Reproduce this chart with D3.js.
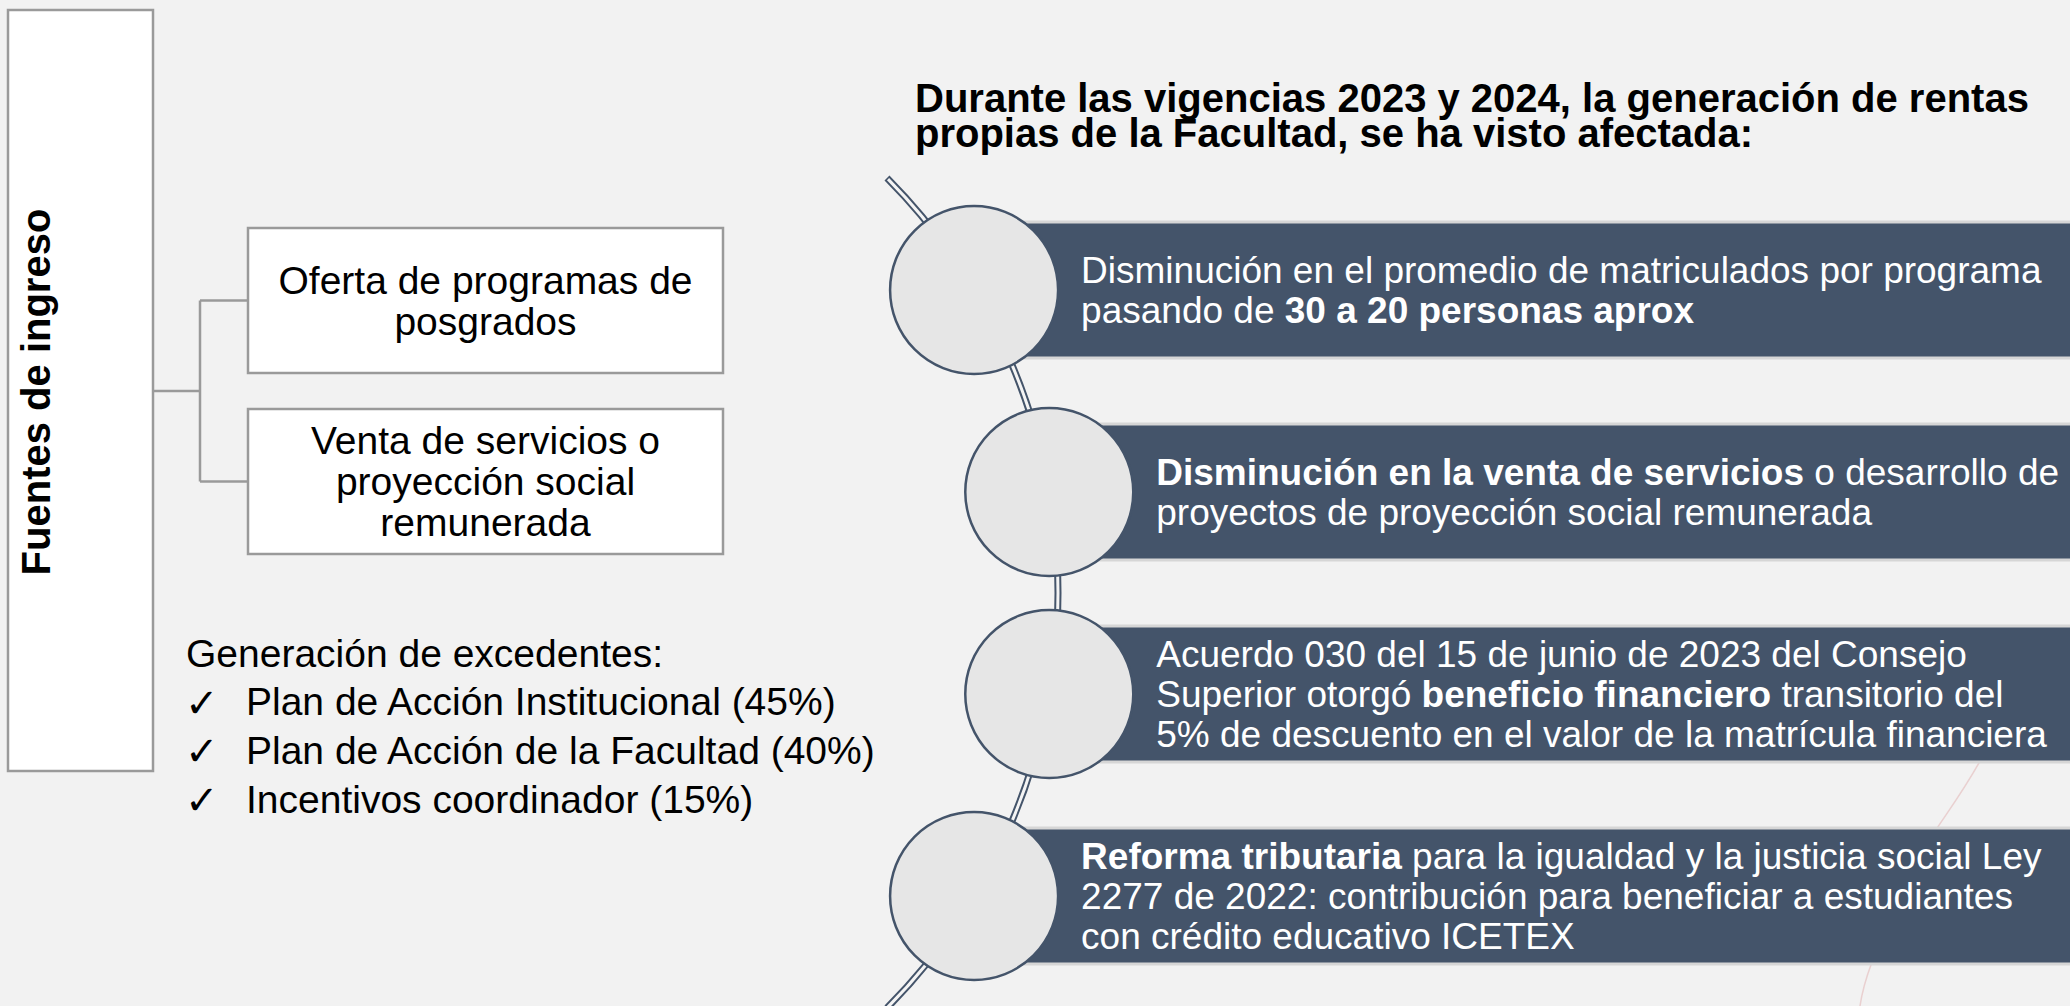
<!DOCTYPE html>
<html>
<head>
<meta charset="utf-8">
<script src="https://cdn.jsdelivr.net/npm/d3@7/dist/d3.min.js"></script>
<style>
  html, body { margin: 0; padding: 0; background: #f2f2f2; }
  svg { display: block; }
  text { font-family: "Liberation Sans", Arial, sans-serif; }
</style>
</head>
<body>
<svg id="chart" width="2070" height="1006"></svg>
<script>
// ---------- data ----------
const sideLabel = "Fuentes de ingreso";
const sourceBoxes = [
  ["Oferta de programas de", "posgrados"],
  ["Venta de servicios o", "proyección social", "remunerada"]
];
const surplusTitle = "Generación de excedentes:";
const surplusItems = [
  "Plan de Acción Institucional (45%)",
  "Plan de Acción de la Facultad (40%)",
  "Incentivos coordinador (15%)"
];
const titleLines = [
  "Durante las vigencias 2023 y 2024, la generación de rentas",
  "propias de la Facultad, se ha visto afectada:"
];
// each band: lines, each line: [text, bold]
const bandTexts = [
  [[["Disminución en el promedio de matriculados por programa", false]],
   [["pasando de ", false], ["30 a 20 personas aprox", true]]],
  [[["Disminución en la venta de servicios", true], [" o desarrollo de", false]],
   [["proyectos de proyección social remunerada", false]]],
  [[["Acuerdo 030 del 15 de junio de 2023 del Consejo", false]],
   [["Superior otorgó ", false], ["beneficio financiero", true], [" transitorio del", false]],
   [["5% de descuento en el valor de la matrícula financiera", false]]],
  [[["Reforma tributaria", true], [" para la igualdad y la justicia social Ley", false]],
   [["2277 de 2022: contribución para beneficiar a estudiantes", false]],
   [["con crédito educativo ICETEX", false]]]
];

// ---------- layout ----------
const W = 2070, H = 1006;
const svg = d3.select("#chart");
const slate = "#44546a";
const grayLine = "#9a9a9a";

svg.append("rect").attr("width", W).attr("height", H).attr("fill", "#f2f2f2");

// faint marble veins
const veins = svg.append("g").attr("fill", "none").attr("stroke", "#e8c8c8").attr("stroke-width", 1.5).attr("opacity", 0.8);
veins.append("path").attr("d", "M1985,752 C1965,790 1945,815 1928,842");
veins.append("path").attr("d", "M1872,962 C1866,978 1862,992 1860,1006");

// ----- left side -----
const left = svg.append("g");
left.append("rect").attr("x", 8).attr("y", 10).attr("width", 145).attr("height", 761)
  .attr("fill", "#ffffff").attr("stroke", grayLine).attr("stroke-width", 2.5);
left.append("text")
  .attr("transform", "translate(50,392) rotate(-90)")
  .attr("text-anchor", "middle")
  .attr("font-size", 40).attr("font-weight", "bold").attr("fill", "#000")
  .text(sideLabel);

const boxY = d3.scaleBand().domain(d3.range(sourceBoxes.length)).range([228, 554]).paddingInner(36 / 181);
const boxX = 248, boxW = 475;
const branchX = 200;
const conn = left.append("g").attr("stroke", grayLine).attr("stroke-width", 2.5).attr("fill", "none");
const mids = sourceBoxes.map((d, i) => boxY(i) + boxY.bandwidth() / 2);
conn.append("line").attr("x1", 153).attr("x2", branchX).attr("y1", 391).attr("y2", 391);
conn.append("line").attr("x1", branchX).attr("x2", branchX).attr("y1", d3.min(mids)).attr("y2", d3.max(mids));
mids.forEach(m => conn.append("line").attr("x1", branchX).attr("x2", boxX).attr("y1", m).attr("y2", m));

sourceBoxes.forEach((lines, i) => {
  const g = left.append("g");
  g.append("rect").attr("x", boxX).attr("y", boxY(i)).attr("width", boxW).attr("height", boxY.bandwidth())
    .attr("fill", "#ffffff").attr("stroke", grayLine).attr("stroke-width", 2.5);
  const lh = 41;
  const y0 = mids[i] - (lines.length - 1) * lh / 2;
  lines.forEach((t, j) => {
    g.append("text").attr("x", boxX + boxW / 2).attr("y", y0 + j * lh)
      .attr("text-anchor", "middle").attr("dominant-baseline", "central")
      .attr("font-size", 39).attr("fill", "#000").text(t);
  });
});

const listY = d3.scaleLinear().domain([0, surplusItems.length]).range([653, 799]);
left.append("text").attr("x", 186).attr("y", listY(0)).attr("dominant-baseline", "central")
  .attr("font-size", 39).attr("fill", "#000").text(surplusTitle);
surplusItems.forEach((t, i) => {
  left.append("text").attr("x", 185).attr("y", listY(i + 1) + 1).attr("dominant-baseline", "central")
    .attr("font-size", 40).attr("fill", "#000")
    .style("font-family", "'DejaVu Sans', sans-serif").text("✓");
  left.append("text").attr("x", 246).attr("y", listY(i + 1)).attr("dominant-baseline", "central")
    .attr("font-size", 39).attr("fill", "#000").text(t);
});

// ----- right side -----
const title = svg.append("text").attr("font-size", 40).attr("font-weight", "bold").attr("fill", "#000");
titleLines.forEach((t, i) => {
  title.append("tspan").attr("x", 915).attr("y", 112 + i * 34.5).text(t);
});

// arc geometry
const arcC = { x: 469, y: 593 }, arcR = 589;
const arcA0 = Math.atan2(178 - arcC.y, 887 - arcC.x);
const arcA1 = -arcA0;
const bandY = d3.scaleLinear().domain([0, bandTexts.length - 1]).range([290, 896]);
const bandH = 133;
const circR = 84;
const xOnArc = y => arcC.x + Math.sqrt(arcR * arcR - (y - arcC.y) * (y - arcC.y));

// bands
const bands = svg.append("g");
bandTexts.forEach((lines, i) => {
  const cy = bandY(i), cx = xOnArc(cy);
  bands.append("rect").attr("x", cx).attr("y", cy - bandH / 2 - 3).attr("width", W - cx).attr("height", bandH + 6)
    .attr("fill", "#d6d6d6");
  bands.append("rect").attr("x", cx).attr("y", cy - bandH / 2).attr("width", W - cx).attr("height", bandH)
    .attr("fill", slate);
});

// connecting double arc
const arcPath = d3.path();
arcPath.arc(arcC.x, arcC.y, arcR, arcA0, arcA1, false);
svg.append("path").attr("d", arcPath.toString()).attr("fill", "none")
  .attr("stroke", slate).attr("stroke-width", 7);
const innerPath = d3.path();
const da = 1.5 / arcR;
innerPath.arc(arcC.x, arcC.y, arcR, arcA0 + da, arcA1 - da, false);
svg.append("path").attr("d", innerPath.toString()).attr("fill", "none")
  .attr("stroke", "#f4f4f4").attr("stroke-width", 3);

// circles and texts
bandTexts.forEach((lines, i) => {
  const cy = bandY(i), cx = xOnArc(cy);
  svg.append("circle").attr("cx", cx).attr("cy", cy).attr("r", circR)
    .attr("fill", "#e6e6e6").attr("stroke", slate).attr("stroke-width", 2.5);
  const lh = 40;
  const y0 = cy - (lines.length - 1) * lh / 2;
  lines.forEach((segs, j) => {
    const t = svg.append("text").attr("x", cx + 107).attr("y", y0 + j * lh)
      .attr("dominant-baseline", "central").attr("font-size", 37).attr("fill", "#ffffff");
    segs.forEach(([s, b]) => {
      t.append("tspan").attr("font-weight", b ? "bold" : "normal").text(s);
    });
  });
});
</script>
</body>
</html>
